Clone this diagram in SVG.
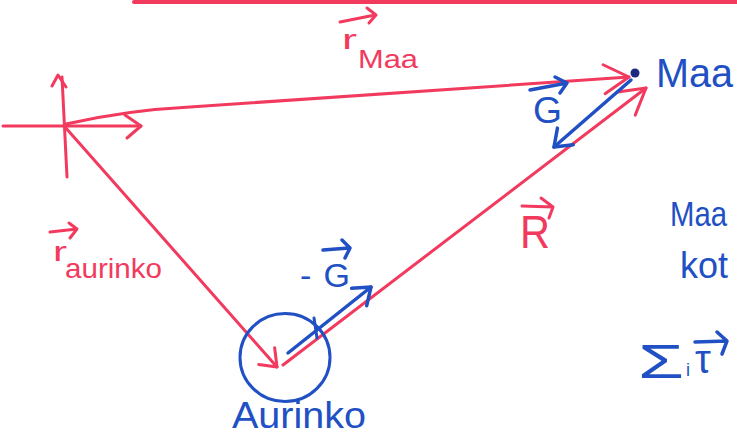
<svg xmlns="http://www.w3.org/2000/svg" width="737" height="437" viewBox="0 0 737 437">
<defs>
<style>
.r{fill:none;stroke:#f23a5e;stroke-width:3;stroke-linecap:round;stroke-linejoin:round}
.b{fill:none;stroke:#2150c4;stroke-width:3.5;stroke-linecap:round;stroke-linejoin:round}
.tr{fill:#f23a5e;font-family:"Liberation Sans",Arial,sans-serif}
.tb{fill:#2150c4;font-family:"Liberation Sans",Arial,sans-serif}
</style>
<marker id="arR" markerUnits="userSpaceOnUse" markerWidth="40" markerHeight="40" refX="0" refY="0" orient="auto" overflow="visible">
<path d="M-25,-14 L0,0 L-25,15" fill="none" stroke="#f23a5e" stroke-width="3" stroke-linecap="round" stroke-linejoin="round"/>
</marker>
<marker id="arRs" markerUnits="userSpaceOnUse" markerWidth="30" markerHeight="30" refX="0" refY="0" orient="auto" overflow="visible">
<path d="M-16,-11 L0,0 L-14,12" fill="none" stroke="#f23a5e" stroke-width="3" stroke-linecap="round" stroke-linejoin="round"/>
</marker>
<marker id="arB" markerUnits="userSpaceOnUse" markerWidth="30" markerHeight="30" refX="0" refY="0" orient="auto" overflow="visible">
<path d="M-16,-11 L0,0 L-15,12" fill="none" stroke="#2150c4" stroke-width="3.5" stroke-linecap="round" stroke-linejoin="round"/>
</marker>
</defs>
<rect width="737" height="437" fill="#ffffff"/>
<path class="r" d="M134,2 L737,2" style="stroke-width:4"/>

<g id="axes">
<path class="r" d="M3,126 L141,126" marker-end="url(#arRs)"/>
<path class="r" d="M67,177 L62,77"/>
<path class="r" d="M52,86 L58,75 L66,87"/>
</g>

<g id="connectors">
<path class="r" d="M66,124 C110,114 150,109 190,107 L629,77" marker-end="url(#arR)"/>
<path class="r" d="M283,365 L646,88" marker-end="url(#arR)"/>
<path class="r" d="M65,127 L277,367" marker-end="url(#arRs)"/>
<path class="b" d="M631,80 L554,147" marker-end="url(#arB)"/>
<path class="b" d="M288,353 L371,287" marker-end="url(#arB)"/>
</g>

<g id="node-maa">
<circle cx="635" cy="73" r="4.5" fill="#1c2a80"/>
<text class="tb" x="656" y="87" font-size="40" textLength="77" lengthAdjust="spacingAndGlyphs">Maa</text>
</g>

<g id="node-aurinko">
<ellipse class="b" cx="285" cy="357.5" rx="45" ry="44" style="stroke-width:3"/>
<path class="b" d="M314,318 L317,338" style="stroke-width:3"/>
<text class="tb" x="232" y="428" font-size="36" textLength="134" lengthAdjust="spacingAndGlyphs">Aurinko</text>
</g>

<g id="labels">
<path class="r" d="M340,22 L375,15 M367,8 L376,15 L369,23"/>
<text class="tr" x="342" y="49" font-size="28" textLength="15" lengthAdjust="spacingAndGlyphs">r</text>
<text class="tr" x="358" y="68" font-size="25" textLength="60" lengthAdjust="spacingAndGlyphs">Maa</text>

<path class="r" d="M50,232 L77,229 M69,223 L77,229 L70,238"/>
<text class="tr" x="53" y="261" font-size="28" textLength="14" lengthAdjust="spacingAndGlyphs">r</text>
<text class="tr" x="65" y="278" font-size="28" textLength="97" lengthAdjust="spacingAndGlyphs">aurinko</text>

<path class="r" d="M522,206 L553,207 M541,198 L553,207 L549,218"/>
<text class="tr" x="520" y="248" font-size="46" textLength="30" lengthAdjust="spacingAndGlyphs">R</text>

<path class="b" d="M530,90 L567,83 M555,77 L567,83 L560,93"/>
<text class="tb" x="533" y="123" font-size="36" textLength="29" lengthAdjust="spacingAndGlyphs">G</text>

<path class="b" d="M323,250 L349,248 M342,240 L350,248 L345,258"/>
<text class="tb" x="300" y="287" font-size="34" textLength="50" lengthAdjust="spacing">-G</text>

<text class="tb" x="670" y="226" font-size="35" textLength="57" lengthAdjust="spacingAndGlyphs">Maa</text>
<text class="tb" x="680" y="278" font-size="36">kot</text>

<text class="tb" x="638" y="378" font-size="48" textLength="46" lengthAdjust="spacingAndGlyphs">Σ</text>
<text class="tb" x="686" y="376" font-size="18">i</text>
<text class="tb" x="695" y="373" font-size="40">τ</text>
<path class="b" d="M695,342 L727,341 M717,332 L727,341 L722,354"/>
</g>
</svg>
